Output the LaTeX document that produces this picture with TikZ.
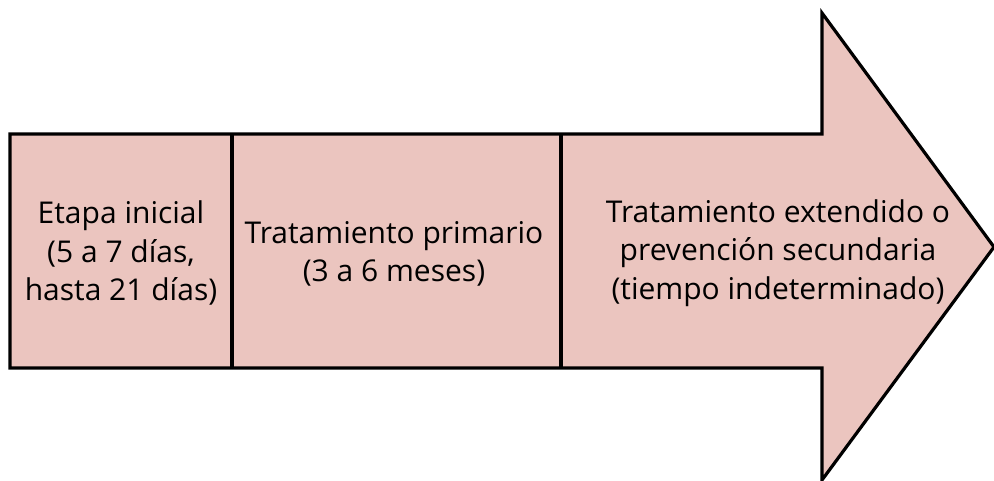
\documentclass[tikz,border=0pt]{standalone}
\usepackage{fontspec}
\setmainfont{Open Sans}
\usepackage{xcolor}
\definecolor{arrowpink}{RGB}{235,197,191}

\begin{document}
\begin{tikzpicture}[x=1pt,y=-1pt,
  stage/.style={align=center,inner sep=0pt,font=\fontsize{30}{38.5}\selectfont}]
\useasboundingbox (0,0) rectangle (994,481);

\draw[line width=3.2pt,fill=arrowpink,line join=miter]
  (10,134) -- (822,134) -- (822,13) -- (994,247) -- (822,480) -- (822,368) -- (10,368) -- cycle;

\draw[line width=3.2pt] (232,134) -- (232,368);
\draw[line width=3.2pt] (561,134) -- (561,368);

\node[stage] (inicial) at (121,253) {Etapa inicial\\(5 a 7 días,\\hasta 21 días)};
\node[stage] (primario) at (394,254) {Tratamiento primario\\(3 a 6 meses)};
\node[stage] (extendido) at (778,253) {Tratamiento extendido o\\prevención secundaria\\(tiempo indeterminado)};
\end{tikzpicture}
\end{document}
